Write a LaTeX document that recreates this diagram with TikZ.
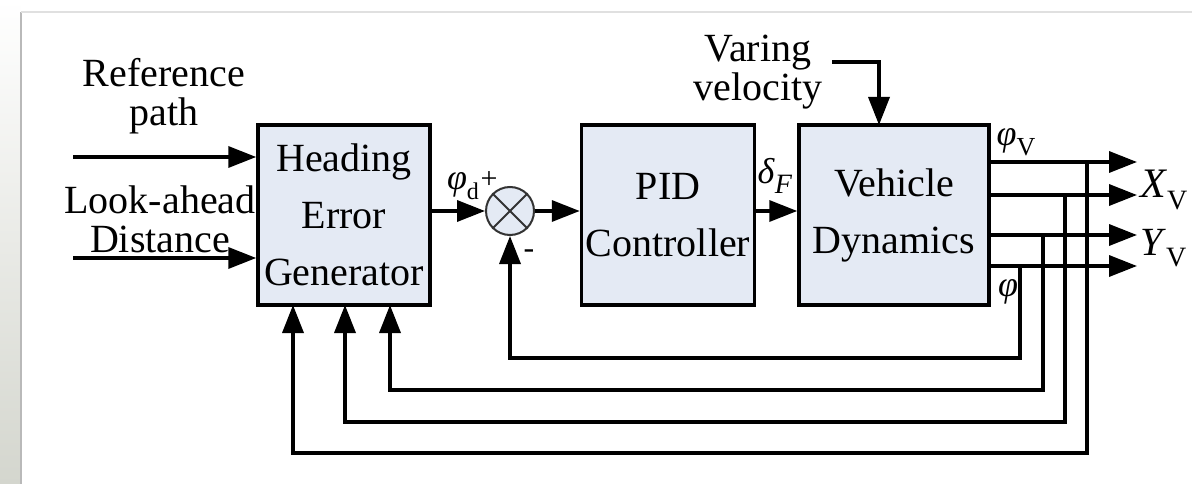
\documentclass[tikz,border=0pt]{standalone}
\usepackage{fontspec}
\setmainfont{Liberation Serif}
\usetikzlibrary{arrows.meta,calc}
\definecolor{boxfill}{RGB}{228,234,244}
\definecolor{stripbot}{RGB}{212,214,206}
\definecolor{frameline}{RGB}{185,185,185}
\newcommand\lowsub[2][24]{\raisebox{-0.28em}{\fontsize{#1}{#1}\selectfont #2}}
\tikzset{
  blk/.style={draw=black, fill=boxfill, line width=3.5pt, align=center,
    inner sep=0pt, font=\fontsize{40}{57}\selectfont},
  lbl/.style={inner sep=0pt, font=\fontsize{40}{39}\selectfont, align=center},
  sym/.style={inner sep=0pt, font=\fontsize{36}{40}\selectfont},
  arr/.style={line width=3.5pt, -{Triangle[length=28pt,width=21pt]}},
}
\begin{document}
\begin{tikzpicture}[x=1pt,y=-1pt]
\useasboundingbox (0,0) rectangle (1192,484);
% page background
\fill[white] (0,0) rectangle (1192,484);
\shade[top color=white, bottom color=stripbot] (0,0) rectangle (20,484);
\draw[frameline, line width=2pt] (21,484) -- (21,12);
\draw[black!12, line width=1.5pt] (21,12) -- (1192,12);

% blocks
\node[blk, minimum width=172, minimum height=180] (heg) at (344,215) {Heading\\Error\\Generator};
\node[blk, minimum width=173, minimum height=180] (pid) at (668,215) {PID\\Controller};
\node[blk, minimum width=190, minimum height=180] (vd) at (894,215) {Vehicle\\Dynamics};
\node[circle, draw=black!80, fill=boxfill, line width=2pt, minimum size=48, inner sep=0pt] (sum) at (510,211) {};
\draw[black!80, line width=2pt] (sum.north west) -- (sum.south east);
\draw[black!80, line width=2pt] (sum.north east) -- (sum.south west);

% input texts
\node[lbl] (refp) at (164,96) {Reference\\path};
\node[lbl] (look) at (160,219) {Look-ahead\\Distance};
\node[lbl] (vvel) at (758,72) {Varing\\velocity};

% inputs
\coordinate (rin) at (73,157);
\coordinate (lin) at (73,258);
\draw[arr] (rin) -- (rin -| heg.west);
\draw[arr] (lin) -- (lin -| heg.west);
\coordinate (vstart) at (832,62);
\coordinate (vend) at (879,125);
\draw[arr] (vstart) -| (vend);

% forward path
\draw[arr] (heg.east |- sum) -- (sum.west);
\draw[arr] (sum.east) -- (sum.east -| pid.west);
\draw[arr] (pid.east |- sum) -- (pid.east |- sum -| vd.west);

% signal labels
\node[sym] (phid) at (463,186) {\textit{φ}\lowsub{d}};
\node[sym] (plus) at (489,180) {\fontsize{30}{30}\selectfont +};
\node[sym] (minus) at (529,254) {\fontsize{32}{30}\selectfont -};
\node[sym] (delf) at (775,176) {\textit{δ}\lowsub[28]{\textit{F}}};
\node[sym] (phiv) at (1016,142) {\textit{φ}\lowsub[26]{V}};
\node[sym] (phi) at (1008,292) {\textit{φ}};
\node[inner sep=0pt, anchor=west, font=\fontsize{42}{48}\selectfont] (xv) at (1140,190) {\textit{X}\lowsub[28]{V}};
\node[inner sep=0pt, anchor=west, font=\fontsize{40}{48}\selectfont] (yv) at (1140,248) {\textit{Y}\lowsub[28]{V}};

% outputs
\coordinate (o1) at (1137,162);
\coordinate (o2) at (1137,195);
\coordinate (o3) at (1137,235);
\coordinate (o4) at (1137,266);
\draw[arr] (vd.east |- o1) -- (o1);
\draw[arr] (vd.east |- o2) -- (o2);
\draw[arr] (vd.east |- o3) -- (o3);
\draw[arr] (vd.east |- o4) -- (o4);

% branch points
\coordinate (b1) at (1020,266);
\coordinate (b2) at (1043,235);
\coordinate (b3) at (1065,195);
\coordinate (b4) at (1087,162);
\coordinate (c1) at (1020,358);
\coordinate (c2) at (1043,390);
\coordinate (c3) at (1065,422);
\coordinate (c4) at (1087,453);
\coordinate (in2) at (390,305);
\coordinate (in3) at (345,305);
\coordinate (in4) at (293,305);

% feedback
\draw[arr] (b1) -- (c1) -| (sum.south);
\draw[arr] (b2) -- (c2) -| (in2);
\draw[arr] (b3) -- (c3) -| (in3);
\draw[arr] (b4) -- (c4) -| (in4);
\end{tikzpicture}
\end{document}
